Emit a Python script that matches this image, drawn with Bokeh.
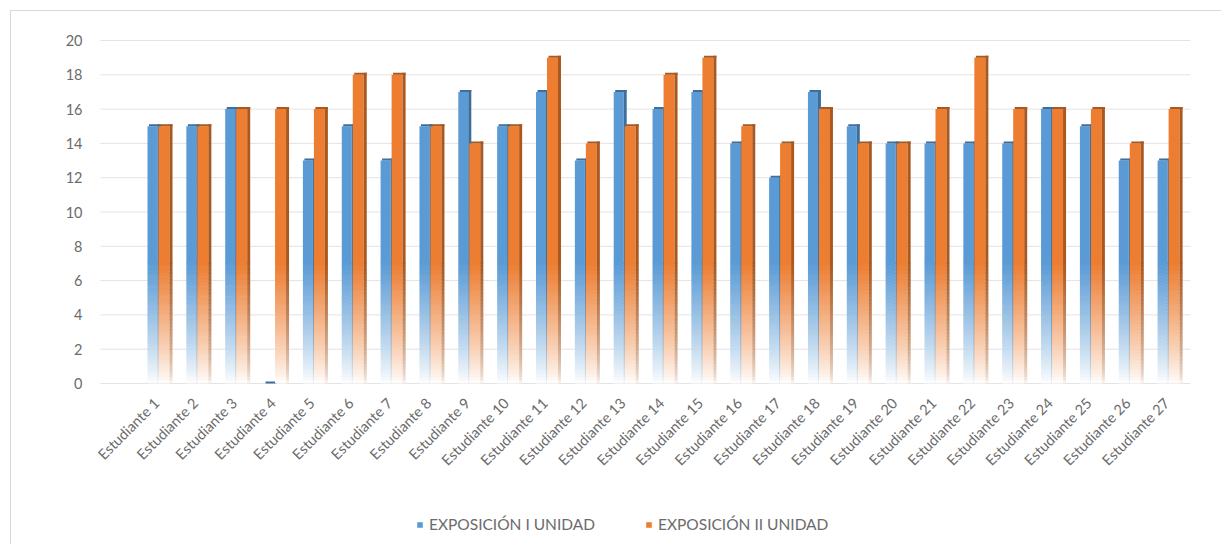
from math import pi

from bokeh.core.properties import value
from bokeh.embed import file_html
from bokeh.models import Legend, LegendItem, Range1d
from bokeh.plotting import figure
from bokeh.resources import INLINE

# ---- data -------------------------------------------------------------
students = [
    "Estudiante 1", "Estudiante 2", "Estudiante 3", "Estudiante 4", "Estudiante 5",
    "Estudiante 6", "Estudiante 7", "Estudiante 8", "Estudiante 9", "Estudiante 10",
    "Estudiante 11", "Estudiante 12", "Estudiante 13", "Estudiante 14", "Estudiante 15",
    "Estudiante 16", "Estudiante 17", "Estudiante 18", "Estudiante 19", "Estudiante 20",
    "Estudiante 21", "Estudiante 22", "Estudiante 23", "Estudiante 24", "Estudiante 25",
    "Estudiante 26", "Estudiante 27",
]
expo_1 = [15, 15, 16, 0, 13, 15, 13, 15, 17, 15, 17, 13, 17, 16, 17, 14, 12, 17, 15, 14,
          14, 14, 14, 16, 15, 13, 13]
expo_2 = [15, 15, 16, 16, 16, 18, 18, 15, 14, 15, 19, 14, 15, 18, 19, 15, 14, 16, 14, 14,
          16, 19, 16, 16, 16, 14, 16]
series_names = ["EXPOSICIÓN I UNIDAD", "EXPOSICIÓN II UNIDAD"]
y_ticks = [0, 2, 4, 6, 8, 10, 12, 14, 16, 18, 20]
y_labels = ["0", "2", "4", "6", "8", "10", "12", "14", "16", "18", "20"]

# ---- geometry / style -------------------------------------------------
# The plotting frame covers the whole canvas; the chart sits inside it.
W, H = 1211, 534
ORG_X, ORG_Y = 11, 11        # canvas offset on the page (margin + border)
FONT = "Lato"
TXT = "#6b6b6b"

STEP = 38.85                 # pixels per category
PX = 1.0 / STEP              # one pixel in x data units
FIRST_X = 158                # page x of the first category centre
YPX = 20.0 / 343             # one pixel in y data units
ZERO_Y = 383                 # page y of the zero line

X_START = -(FIRST_X - ORG_X) * PX
X_END = X_START + W * PX
Y_HI = (ZERO_Y - ORG_Y) * YPX
Y_LO = Y_HI - H * YPX

GRID_L = X_START + (100 - ORG_X) * PX
GRID_R = X_START + (1190 - ORG_X) * PX
YLAB_X = X_START + (82 - ORG_X) * PX
LBL_DX = -2 * PX
LBL_Y = -(400 - ZERO_Y) * YPX

BLUE, BLUE_SIDE = "#5b9bd5", "#3e6e9c"
ORANGE, ORANGE_SIDE = "#ed7d31", "#a9581f"

FADE = 7.0                   # bars fade to white below this value
N_SLICES = 36


def hex_rgb(c):
    c = c.lstrip("#")
    return tuple(int(c[i:i + 2], 16) for i in (0, 2, 4))


def mix(c, t):
    r, g, b = hex_rgb(c)
    return "#%02x%02x%02x" % tuple(int(round(255 + (ch - 255) * t)) for ch in (r, g, b))


def faces(values, front_off, front_w, side_w, base, side):
    """Quads for a pseudo-3D bar: front face, right side face and top cap,
    each fading toward white near the floor."""
    q = dict(left=[], right=[], bottom=[], top=[], color=[])

    def add(l, r, b, t, col):
        q["left"].append(l)
        q["right"].append(r)
        q["bottom"].append(b)
        q["top"].append(t)
        q["color"].append(col)

    eps = 0.6 * YPX
    for i, v in enumerate(values):
        fl = i + front_off
        fr = fl + front_w
        sr = fr + side_w
        for l, r, col, lift, gamma in ((fl, fr, base, 0.0, 0.85),
                                       (fr, sr, side, 2 * YPX, 0.55)):
            top = v + lift
            if top > FADE:
                add(l, r, FADE, top, col)
            for k in range(N_SLICES):
                b = k * FADE / N_SLICES
                t = (k + 1) * FADE / N_SLICES
                if b >= top:
                    break
                s = ((b + t) / 2) / FADE
                add(l, r, b, min(t + eps, top), mix(col, s ** gamma))
        # top cap
        add(fl + 1.5 * PX, sr, v, v + 2 * YPX, side)
    return q


p = figure(
    width=W, height=H,
    x_range=Range1d(X_START, X_END),
    y_range=Range1d(Y_LO, Y_HI),
    output_backend="svg", toolbar_location=None,
    x_axis_location=None, y_axis_location=None,
    min_border=0,
)
p.styles = {
    "margin-left": "10px", "margin-top": "10px",
    "border-left": "1px solid #d9d9d9", "border-top": "1px solid #d9d9d9",
}
p.outline_line_color = None
p.background_fill_color = "white"
p.border_fill_color = "white"
p.grid.visible = False

# horizontal grid lines and value labels
p.segment(x0=[GRID_L] * len(y_ticks), x1=[GRID_R] * len(y_ticks),
          y0=y_ticks, y1=y_ticks, line_color="#e3e3e3", line_width=1)
p.text(x=[YLAB_X] * len(y_ticks), y=y_ticks, text=y_labels,
       text_align="right", text_baseline="middle",
       text_font=value(FONT), text_font_size="14.5px", text_color=TXT)

# bars
blue_q = faces(expo_1, -11 * PX, 10 * PX, 3 * PX, BLUE, BLUE_SIDE)
orange_q = faces(expo_2, 0 * PX, 11 * PX, 3 * PX, ORANGE, ORANGE_SIDE)
p.quad(source=blue_q, left="left", right="right", bottom="bottom", top="top",
       fill_color="color", line_color=None)
p.quad(source=orange_q, left="left", right="right", bottom="bottom", top="top",
       fill_color="color", line_color=None)

# category labels on the floor
p.text(x=[i + LBL_DX for i in range(len(students))], y=[LBL_Y] * len(students),
       text=students, angle=pi / 4, text_align="right", text_baseline="middle",
       text_font=value(FONT), text_font_size="14.5px", text_color=TXT)

# legend (zero-size swatch carriers)
r1 = p.quad(left=[0], right=[0], bottom=[0], top=[0], fill_color=BLUE, line_color=None)
r2 = p.quad(left=[0], right=[0], bottom=[0], top=[0], fill_color=ORANGE, line_color=None)
legend = Legend(
    items=[LegendItem(label=series_names[0], renderers=[r1]),
           LegendItem(label=series_names[1], renderers=[r2])],
    orientation="horizontal",
    location=(405, 12),
    glyph_width=7, glyph_height=7,
    label_text_font=FONT, label_text_font_size="15.5px", label_text_color=TXT,
    label_standoff=6, spacing=50, padding=2, margin=0,
    border_line_color=None, background_fill_alpha=0,
)
p.add_layout(legend, "center")

open("out.html", "w").write(file_html(p, INLINE))
